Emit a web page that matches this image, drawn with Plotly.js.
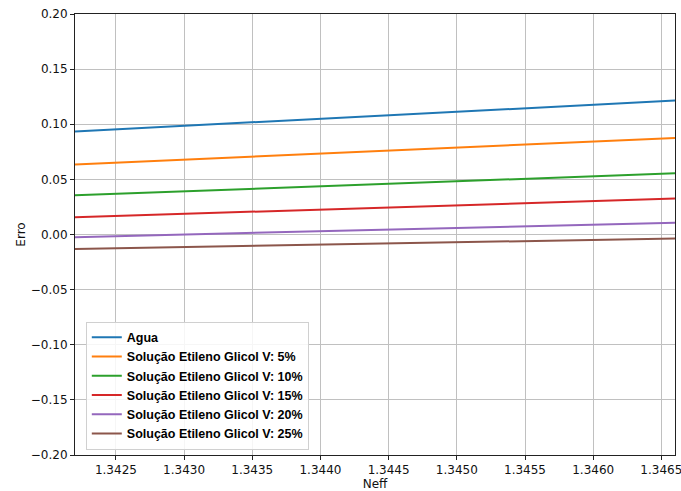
<!DOCTYPE html>
<html>
<head>
<meta charset="utf-8">
<script src="https://cdn.plot.ly/plotly-3.0.1.min.js"></script>
<style>html,body{margin:0;padding:0;background:#fff;}#chart{width:681px;height:491px;}</style>
</head>
<body>
<div id="chart"></div>
<script>
const neff = [1.3422, 1.3444, 1.3466];
const seriesNames = [
  "Agua",
  "Solução Etileno Glicol V: 5%",
  "Solução Etileno Glicol V: 10%",
  "Solução Etileno Glicol V: 15%",
  "Solução Etileno Glicol V: 20%",
  "Solução Etileno Glicol V: 25%"
];
const agua = [0.0935, 0.1072, 0.1215];
const eg5 = [0.0636, 0.0753, 0.0875];
const eg10 = [0.0356, 0.0453, 0.0555];
const eg15 = [0.0157, 0.0240, 0.0326];
const eg20 = [-0.0024, 0.0040, 0.0106];
const eg25 = [-0.0131, -0.0084, -0.0036];
const colors = ["#1f77b4", "#ff7f0e", "#2ca02c", "#d62728", "#9467bd", "#8c564b"];
const allSeries = [agua, eg5, eg10, eg15, eg20, eg25];

const traces = allSeries.map((ys, i) => ({
  x: neff, y: ys, type: "scatter", mode: "lines", name: seriesNames[i],
  line: {color: colors[i], width: 2}
}));

const axisCommon = {
  showline: true, mirror: true, linecolor: "#222", linewidth: 1,
  ticks: "outside", ticklen: 4, tickcolor: "#222",
  showgrid: true, gridcolor: "#c0c0c0", gridwidth: 1,
  zeroline: false,
  tickfont: {family: "DejaVu Sans", size: 12, color: "#111"}
};

const layout = {
  width: 681, height: 491,
  margin: {l: 75, r: 6, t: 14, b: 36},
  paper_bgcolor: "#fff", plot_bgcolor: "#fff",
  showlegend: true,
  xaxis: Object.assign({}, axisCommon, {
    range: [1.3422, 1.3466], tickvals: [1.3425,1.343,1.3435,1.344,1.3445,1.345,1.3455,1.346,1.3465],
    ticktext: ["1.3425","1.3430","1.3435","1.3440","1.3445","1.3450","1.3455","1.3460","1.3465"],
    ticklabeloverflow: "allow",
    title: {text: "Neff", font: {family: "DejaVu Sans", size: 12, color: "#111"}, standoff: 3}
  }),
  yaxis: Object.assign({}, axisCommon, {
    range: [-0.2, 0.2], tickvals: [-0.2,-0.15,-0.1,-0.05,0,0.05,0.1,0.15,0.2],
    ticktext: ["−0.20","−0.15","−0.10","−0.05","0.00","0.05","0.10","0.15","0.20"],
    title: {text: "Erro", font: {family: "DejaVu Sans", size: 12, color: "#111"}, standoff: 2}
  }),
  legend: {
    x: 0.018, y: 0.012, xanchor: "left", yanchor: "bottom",
    bgcolor: "rgba(255,255,255,0.85)", bordercolor: "#d0d0d0", borderwidth: 1,
    font: {family: "Liberation Sans", size: 12.5, color: "#000", weight: "bold"},
    tracegroupgap: 0, itemwidth: 30
  }
};

Plotly.newPlot("chart", traces, layout, {displayModeBar: false, staticPlot: true});
</script>
</body>
</html>
